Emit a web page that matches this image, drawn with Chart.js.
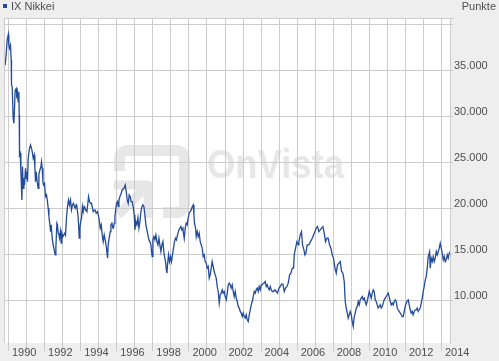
<!DOCTYPE html>
<html>
<head>
<meta charset="utf-8">
<script src="https://cdn.jsdelivr.net/npm/chart.js@4/dist/chart.umd.min.js"></script>
<style>
  html, body { margin: 0; padding: 0; background: #eeeeee; }
  #wrap { width: 499px; height: 361px; position: relative; }
</style>
</head>
<body>
<div id="wrap"><canvas id="c" width="499" height="361"></canvas></div>
<script>
const seriesName = 'IX Nikkei';
const unitLabel = 'Punkte';
const watermarkText = 'OnVista';

// decimal years
const years = [
1989.817,1989.872,1989.928,1989.990,1990.020,1990.055,1990.110,1990.150,1990.166,1990.205,
1990.260,1990.300,1990.330,1990.370,1990.430,1990.466,1990.500,1990.540,1990.576,1990.593,
1990.610,1990.649,1990.687,1990.743,1990.776,1990.815,1990.854,1990.887,1990.942,1990.980,
1991.020,1991.053,1991.090,1991.164,1991.220,1991.275,1991.314,1991.370,1991.425,1991.463,
1991.497,1991.535,1991.590,1991.646,1991.685,1991.740,1991.796,1991.830,1991.868,1991.907,
1991.940,1991.996,1992.050,1992.106,1992.160,1992.200,1992.240,1992.295,1992.330,1992.367,
1992.420,1992.478,1992.533,1992.590,1992.627,1992.683,1992.716,1992.755,1992.794,1992.827,
1992.880,1992.920,1992.960,1993.015,1993.070,1993.126,1993.160,1993.215,1993.270,1993.326,
1993.380,1993.437,1993.490,1993.548,1993.603,1993.660,1993.700,1993.753,1993.790,1993.847,
1993.880,1993.920,1993.958,1993.990,1994.047,1994.100,1994.140,1994.196,1994.235,1994.290,
1994.346,1994.400,1994.435,1994.490,1994.545,1994.600,1994.656,1994.695,1994.790,1994.860,
1994.933,1995.010,1995.083,1995.140,1995.194,1995.250,1995.305,1995.377,1995.430,1995.490,
1995.527,1995.580,1995.637,1995.676,1995.730,1995.787,1995.820,1995.860,1995.898,1995.953,
1995.987,1996.042,1996.080,1996.120,1996.175,1996.247,1996.300,1996.397,1996.470,1996.525,
1996.580,1996.635,1996.690,1996.746,1996.800,1996.857,1996.910,1996.967,1997.006,1997.060,
1997.117,1997.173,1997.228,1997.284,1997.340,1997.395,1997.450,1997.506,1997.560,1997.616,
1997.670,1997.727,1997.783,1997.838,1997.894,1997.927,1997.966,1998.004,1998.060,1998.115,
1998.170,1998.226,1998.280,1998.337,1998.390,1998.448,1998.503,1998.560,1998.592,1998.630,
1998.703,1998.740,1998.780,1998.814,1998.870,1998.925,1998.980,1999.035,1999.090,1999.146,
1999.200,1999.257,1999.310,1999.368,1999.446,1999.500,1999.556,1999.610,1999.667,1999.684,
1999.740,1999.795,1999.850,1999.906,1999.960,2000.017,2000.072,2000.128,2000.183,2000.240,
2000.277,2000.310,2000.366,2000.405,2000.460,2000.515,2000.570,2000.626,2000.680,2000.737,
2000.790,2000.847,2000.900,2000.960,2001.014,2001.070,2001.125,2001.180,2001.236,2001.290,
2001.347,2001.400,2001.458,2001.513,2001.570,2001.624,2001.680,2001.735,2001.790,2001.846,
2001.900,2001.957,2002.012,2002.068,2002.123,2002.180,2002.235,2002.290,2002.345,2002.400,
2002.456,2002.510,2002.567,2002.620,2002.678,2002.733,2002.790,2002.844,2002.900,2002.955,
2003.010,2003.066,2003.120,2003.177,2003.230,2003.290,2003.343,2003.400,2003.454,2003.510,
2003.565,2003.620,2003.676,2003.730,2003.787,2003.840,2003.897,2003.953,2004.010,2004.064,
2004.120,2004.175,2004.230,2004.286,2004.340,2004.397,2004.450,2004.508,2004.563,2004.620,
2004.690,2004.767,2004.840,2004.910,2004.990,2005.060,2005.133,2005.210,2005.283,2005.356,
2005.434,2005.506,2005.580,2005.654,2005.726,2005.800,2005.837,2005.910,2005.987,2006.060,
2006.096,2006.170,2006.240,2006.297,2006.375,2006.430,2006.485,2006.557,2006.650,2006.740,
2006.835,2006.907,2006.985,2007.057,2007.130,2007.206,2007.280,2007.350,2007.428,2007.500,
2007.572,2007.650,2007.720,2007.794,2007.870,2007.943,2008.015,2008.093,2008.165,2008.237,
2008.314,2008.387,2008.460,2008.536,2008.610,2008.664,2008.720,2008.775,2008.830,2008.886,
2008.940,2008.997,2009.050,2009.108,2009.163,2009.220,2009.274,2009.330,2009.385,2009.440,
2009.496,2009.550,2009.607,2009.660,2009.717,2009.770,2009.828,2009.880,2009.940,2009.994,
2010.050,2010.104,2010.160,2010.216,2010.270,2010.327,2010.380,2010.438,2010.490,2010.550,
2010.604,2010.660,2010.715,2010.770,2010.826,2010.880,2010.937,2010.990,2011.048,2011.100,
2011.160,2011.214,2011.270,2011.325,2011.380,2011.436,2011.490,2011.547,2011.600,2011.658,
2011.713,2011.770,2011.823,2011.880,2011.934,2011.990,2012.045,2012.100,2012.157,2012.210,
2012.268,2012.320,2012.378,2012.430,2012.490,2012.545,2012.600,2012.656,2012.710,2012.766,
2012.820,2012.877,2012.930,2012.988,2013.043,2013.100,2013.154,2013.210,2013.265,2013.340,
2013.376,2013.430,2013.487,2013.540,2013.597,2013.653,2013.710,2013.764,2013.820,2013.875,
2013.930,2013.986,2014.040,2014.097,2014.152,2014.208,2014.263,2014.320,2014.374,2014.430,
2014.470
];

// index points
const values = [
35580,36850,38300,38920,37750,37400,37750,36130,33410,33230,
29800,29260,30700,32870,33050,31970,32510,31600,32690,30160,
25820,26000,24000,20930,24550,22200,23290,22560,24370,23290,
24000,22920,25460,26540,26900,26540,26170,25460,25820,24370,
22920,24000,22920,22200,23650,24190,24550,25090,24370,22920,
22560,22740,21290,21470,20750,20030,19120,18220,17490,18220,
16770,16050,15500,14960,15860,18400,18220,17320,17130,16770,
17490,16230,17320,16950,17130,17320,17130,18990,20200,20930,
20390,20930,19850,20390,20570,20200,20030,20390,20200,19300,
18400,16770,17860,18400,18990,20200,19660,20200,20030,19850,
19660,20570,21290,20750,20570,20570,20030,19660,19850,19490,
19660,18990,17860,18220,17130,16400,17130,16400,15690,14600,
16050,16770,17490,18220,18400,17860,17860,18400,19120,20030,
20570,20750,20200,20930,21290,21660,22020,22200,22560,21830,
20930,20570,21470,21290,20750,20750,20200,19300,17680,18580,
18220,18990,17860,18580,19660,20200,20390,20200,19300,18220,
17670,17130,16590,16400,16050,15320,14780,16590,16950,16590,
17130,16400,16050,16770,16050,15320,16050,16400,15690,14960,
14230,13520,12970,13870,14960,14230,14780,14230,14960,15690,
16400,16770,16590,17130,17670,17860,18030,17670,17860,17490,
16770,17860,18400,18220,18990,19530,19660,19850,20200,20390,
19300,18400,17860,16950,17490,16950,17320,16400,16050,15690,
14780,14960,14230,14060,13520,13690,12430,12790,13520,14230,
13690,13150,12790,12430,11520,10980,9720,10620,10800,11160,
10800,10980,10430,10080,10800,11700,11890,11700,11350,11700,
10980,10430,10980,10260,9890,9350,9180,8810,8630,8260,
8630,8260,8090,8450,7900,7720,8450,8990,9530,9890,
10430,10980,10800,11160,11350,10980,11520,11160,11700,11700,
11890,11890,12060,11520,11700,11350,11160,11520,11160,10980,
10980,11160,10980,10800,11350,11520,11780,11780,10980,11350,
11520,11890,12790,12970,13520,13520,14960,15690,16400,16050,
16400,17130,17490,16050,15500,14960,15140,16050,16050,16400,
16770,17130,17490,17860,18030,17490,17670,17860,18030,17320,
16400,16770,16770,16050,15690,14960,14600,13520,12970,13870,
14060,14230,13150,12970,12060,9890,9180,8630,8090,8450,
8810,8450,7720,7180,8260,8630,9180,9350,9890,9530,
10080,10260,10430,10080,10260,9890,9530,9890,10430,10980,
10620,10260,10800,11160,10980,10080,9890,9530,9180,9350,
9530,9180,9350,9720,10080,10260,10430,10620,10800,10430,
9890,9530,9720,9530,9890,10080,9890,9180,8990,8810,
8630,8450,8260,8260,8810,9350,9720,9970,10080,9530,
8990,8630,8810,8450,8810,8990,8990,9180,8810,8990,
9180,9720,10260,10980,11520,12250,12600,13520,14780,15300,
13520,14600,14230,14780,14230,14600,15320,14960,15320,15690,
16230,15690,15140,14420,14780,14230,14420,14960,14600,15140,
15320
];

const yearTicks = [1990,1991,1992,1993,1994,1995,1996,1997,1998,1999,2000,2001,2002,
  2003,2004,2005,2006,2007,2008,2009,2010,2011,2012,2013,2014];
const labeledYears = [1990,1992,1994,1996,1998,2000,2002,2004,2006,2008,2010,2012,2014];
const valueTicks = [10000,15000,20000,25000,30000,35000,40000];
const labeledValues = [10000,15000,20000,25000,30000,35000];
const xRange = [1989.7506, 2014.471];
const yRange = [5380, 40706];

const lineColor = '#234b9b';
const gridColor = '#cccccc';
const textColor = '#4f4f4f';
const fontFamily = "'Liberation Sans', Arial, Helvetica, sans-serif";

function fmtDE(v) {
  return String(v).replace(/\B(?=(\d{3})+(?!\d))/g, '.');
}

const backgroundPlugin = {
  id: 'bgAndWatermark',
  beforeDraw(chart) {
    const ctx = chart.ctx;
    const a = chart.chartArea;
    ctx.save();
    ctx.fillStyle = '#eeeeee';
    ctx.fillRect(0, 0, chart.width, chart.height);
    ctx.fillStyle = '#ffffff';
    ctx.fillRect(a.left, a.top, a.right - a.left, a.bottom - a.top);
    // watermark logo
    ctx.strokeStyle = '#e7e7e7';
    ctx.fillStyle = '#e7e7e7';
    ctx.lineWidth = 11;
    ctx.lineCap = 'butt';
    ctx.lineJoin = 'round';
    ctx.beginPath();
    ctx.moveTo(119.5, 171);
    ctx.lineTo(119.5, 158);
    ctx.arcTo(119.5, 150.5, 128, 150.5, 8);
    ctx.lineTo(176, 150.5);
    ctx.arcTo(184.5, 150.5, 184.5, 159, 8);
    ctx.lineTo(184.5, 204);
    ctx.arcTo(184.5, 212.5, 176, 212.5, 8);
    ctx.lineTo(163, 212.5);
    ctx.stroke();
    ctx.lineWidth = 9;
    ctx.beginPath();
    ctx.moveTo(114, 185);
    ctx.lineTo(148, 185);
    ctx.lineTo(148, 218);
    ctx.stroke();
    ctx.beginPath();
    ctx.moveTo(118, 215);
    ctx.lineTo(145, 188);
    ctx.stroke();
    // watermark text
    ctx.font = "bold 41px 'Liberation Sans', Arial, sans-serif";
    ctx.textBaseline = 'alphabetic';
    ctx.textAlign = 'left';
    const w = ctx.measureText(watermarkText).width;
    ctx.translate(207, 178);
    ctx.scale(137 / w, 1);
    ctx.fillText(watermarkText, 0, 0);
    ctx.restore();
  },
  afterDatasetsDraw(chart) {
    const ctx = chart.ctx;
    const a = chart.chartArea;
    ctx.save();
    ctx.strokeStyle = gridColor;
    ctx.lineWidth = 1;
    ctx.beginPath();
    ctx.moveTo(a.left + 0.5, a.bottom);
    ctx.lineTo(a.left + 0.5, a.top);
    ctx.moveTo(a.left, a.top + 0.5);
    ctx.lineTo(a.right + 4, a.top + 0.5);
    ctx.stroke();
    ctx.restore();
  },
  afterDraw(chart) {
    const ctx = chart.ctx;
    const ds = chart.data.datasets[0];
    ctx.save();
    ctx.fillStyle = ds.borderColor;
    ctx.fillRect(3, 4, 4, 4);
    ctx.fillStyle = textColor;
    ctx.font = '11px ' + fontFamily;
    ctx.textBaseline = 'alphabetic';
    ctx.textAlign = 'left';
    ctx.fillText(ds.label, 11, 9.5);
    ctx.textAlign = 'right';
    ctx.fillText(unitLabel, 496, 10);
    ctx.restore();
  }
};

const points = years.map((x, i) => ({ x: x, y: values[i] }));

new Chart(document.getElementById('c').getContext('2d'), {
  type: 'line',
  data: {
    datasets: [{
      label: seriesName,
      data: points,
      borderColor: lineColor,
      backgroundColor: lineColor,
      borderWidth: 1.3,
      pointRadius: 0,
      tension: 0,
      fill: false
    }]
  },
  options: {
    responsive: false,
    animation: false,
    devicePixelRatio: 1,
    parsing: false,
    layout: { padding: { left: 4, top: 18, right: 0, bottom: 0 } },
    plugins: {
      legend: { display: false },
      tooltip: { enabled: false },
      title: { display: false }
    },
    scales: {
      x: {
        type: 'linear',
        position: 'bottom',
        min: xRange[0],
        max: xRange[1],
        afterBuildTicks(scale) { scale.ticks = yearTicks.map(v => ({ value: v })); },
        afterFit(scale) { scale.height = 18; },
        grid: { color: gridColor, lineWidth: 1, tickLength: 8, drawTicks: true },
        border: { display: false },
        ticks: {
          autoSkip: false,
          maxRotation: 0,
          minRotation: 0,
          align: 'start',
          labelOffset: 3.5,
          padding: -4.6,
          color: textColor,
          font: { family: fontFamily, size: 11 },
          callback(v) { return labeledYears.includes(v) ? String(v) : ''; }
        }
      },
      y: {
        type: 'linear',
        position: 'right',
        min: yRange[0],
        max: yRange[1],
        afterBuildTicks(scale) { scale.ticks = valueTicks.map(v => ({ value: v })); },
        afterFit(scale) { scale.width = 49; },
        grid: { color: gridColor, lineWidth: 1, tickLength: 3, drawTicks: true },
        border: { display: true, color: gridColor },
        ticks: {
          autoSkip: false,
          padding: 1,
          labelOffset: -5,
          color: textColor,
          font: { family: fontFamily, size: 11 },
          callback(v) { return labeledValues.includes(v) ? fmtDE(v) : ''; }
        }
      }
    }
  },
  plugins: [backgroundPlugin]
});
</script>
</body>
</html>
